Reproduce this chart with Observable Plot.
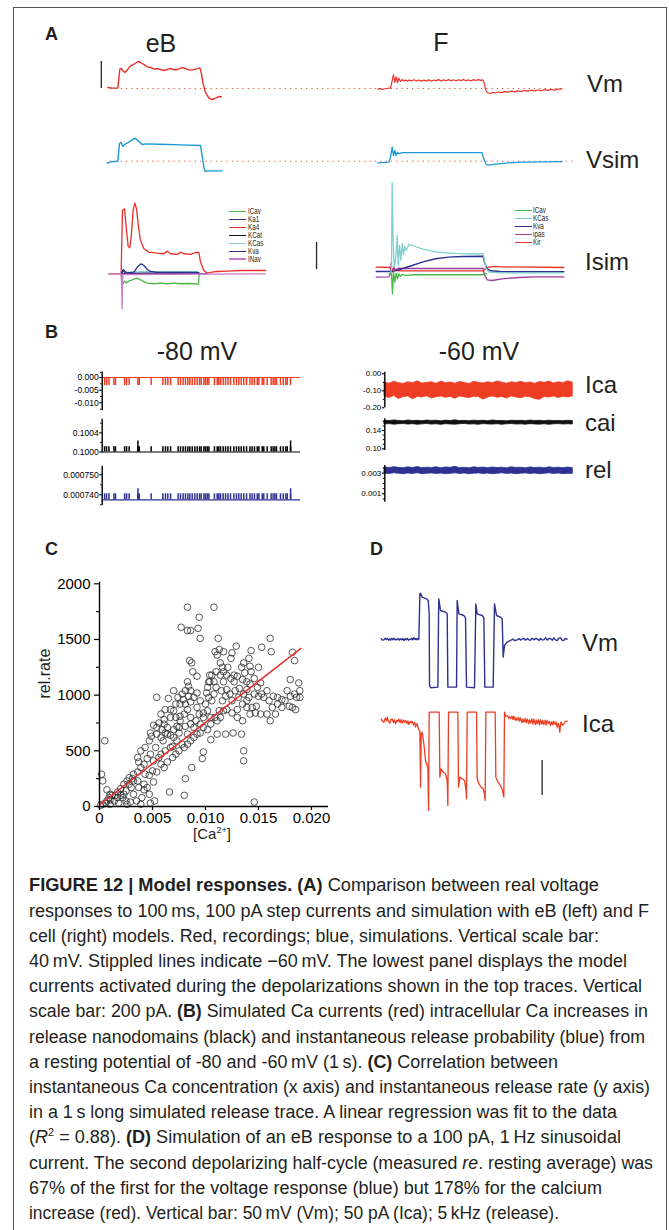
<!DOCTYPE html>
<html><head><meta charset="utf-8">
<script src="https://cdn.jsdelivr.net/npm/d3@7"></script>
<script src="https://cdn.jsdelivr.net/npm/@observablehq/plot@0.6"></script>
<style>
body{margin:0;background:#fff;}
#fig{position:relative;width:669px;height:1230px;overflow:hidden;background:#fff;font-family:"Liberation Sans",Arial,Helvetica,sans-serif;color:#231f20;}
.lab{position:absolute;white-space:nowrap;line-height:1;}
#frame{position:absolute;left:13px;top:7px;width:654px;height:1250px;border:1.4px solid #555;box-sizing:border-box;}
sup{font-size:0.6em;line-height:0;}
</style></head>
<body><div id="fig"><div id="frame"></div></div>
<script>
// ---------------- DATA ----------------
// Panel A: voltage traces [time ms, mV]
const vmEB = [[-12.1,-58.5],[-6.9,-59.5],[0,-59.5],[2.4,-31.4],[4.4,-30.4],[6.0,-33.8],[8.5,-36.3],[11.3,-32.8],[15.3,-26.4],[20.6,-23.0],[24.6,-20.0],[27.4,-21.5],[32.3,-24.9],[35.5,-27.9],[39.5,-28.9],[44.4,-31.4],[47.6,-30.4],[52.4,-32.3],[56.5,-33.3],[60.5,-31.4],[63.7,-30.4],[67.7,-32.3],[71.8,-31.9],[75.8,-29.9],[79.0,-28.9],[83.1,-31.4],[87.9,-32.8],[93.9,-31.4],[99.2,-29.4],[101.2,-38.8],[103.2,-53.6],[106.0,-65.9],[110.1,-74.3],[114.1,-76.3],[118.1,-74.3],[122.2,-71.9],[125.0,-72.3]];
const vmF = [[314.4,-61.0],[317,-60.2],[320,-61.5],[323,-60.4],[326,-60.0],[328,-59.3],[329.7,-59.5],[331.7,-48.6],[333.3,-39.8],[335.0,-51.1],[336.5,-42.7],[338.2,-51.1],[339.8,-44.7],[341.8,-49.6],[343.8,-46.7],[346,-48.9],[348,-47.3],[350,-49.0],[352,-47.5],[355,-48.8],[358,-47.0],[361,-48.6],[364,-47.4],[367,-49.1],[370,-47.6],[373,-48.7],[376,-47.2],[379,-49.0],[382,-47.5],[385,-48.4],[388,-46.9],[391,-48.8],[394,-47.3],[397,-48.5],[400,-46.8],[403,-48.6],[406,-47.1],[409,-48.9],[412,-47.0],[415,-48.3],[418,-46.6],[421,-48.5],[424,-47.2],[427,-48.8],[430,-46.9],[433,-48.1],[436,-46.8],[439,-48.0],[441,-47.2],[443.0,-51.1],[444.6,-61.0],[446.6,-65.9],[450.6,-67.4],[454,-65.5],[457,-66.6],[460,-65.2],[464,-66.2],[468,-64.6],[472,-65.5],[476,-63.9],[480,-64.9],[484,-63.5],[488,-64.4],[492,-62.8],[496,-63.9],[500,-62.6],[504,-63.5],[508,-62.2],[512,-63.1],[516,-61.8],[520,-62.7],[524,-61.5],[528,-62.3],[532,-61.0],[537,-60.5]];
const vsimEB = [[-12.9,-63.0],[-8.9,-61.0],[0,-60],[2.0,-34.3],[4.0,-31.9],[6.0,-38.3],[9.3,-34.3],[13.3,-31.9],[17.3,-28.4],[20.6,-25.9],[23.4,-28.4],[26.6,-31.9],[29.4,-35.3],[33.5,-34.3],[51.6,-34.8],[75.8,-35.8],[100.0,-36.8],[101.6,-49.1],[104.0,-68.9],[105.6,-74.8],[112.1,-74.3],[126.2,-74.3]];
const vsimF = [[314.4,-62.5],[319.6,-62.0],[327.7,-61.5],[329.7,-54.1],[331.7,-39.3],[333.3,-51.6],[335.0,-44.2],[336.5,-51.6],[338.2,-46.7],[339.8,-49.1],[343.8,-47.2],[351.9,-47.2],[440.5,-47.2],[442.5,-56.5],[445.4,-64.9],[448.6,-65.9],[456.6,-64.4],[472.8,-62.5],[488.9,-61.5],[513.1,-61.0],[537.2,-60.5]];
const restMv = -60;            // stippled line level
const stippleVm = [-9, 540];   // time extent of stippled line (Vm row)
const stippleVsim = [-9, 551];
const vmBar = [-60, -20];      // 40 mV scale bar
// Panel A: model currents [time ms, pA]
const ka4EB = [[-10.9,0],[4.0,0],[5.6,464],[8.1,476],[10.5,318],[12.5,200],[14.5,191],[16.1,269],[18.5,464],[20.6,518],[22.6,476],[25.0,342],[27.4,244],[31.5,183],[37.5,159],[47.6,151],[55.6,147],[59.7,166],[63.7,147],[71.8,142],[75.8,159],[79.8,147],[87.9,142],[94.0,156],[98.0,156],[100.0,86],[104.0,24],[108.1,5],[112.1,10],[120.2,17],[132.3,20],[148.4,24],[164.5,24],[178.6,24]];
const icavEB = [[4.0,0],[5.2,-81],[8.1,-54],[10.5,-68],[12.9,-54],[16.1,-49],[19.4,-39],[23.4,-32],[27.4,-44],[35.5,-68],[43.5,-73],[51.6,-68],[59.7,-73],[67.7,-68],[75.8,-73],[83.9,-71],[91.9,-73],[97.6,-76],[98.4,0]];
const kvaEB = [[4.0,0],[6.5,32],[8.1,20],[11.3,7],[19.4,12],[24.2,54],[28.2,73],[31.5,61],[35.5,32],[39.5,17],[47.6,10],[96.0,10],[99.2,2],[108,0]];
const kcasEB = [[4,0],[11.3,10],[27.4,15],[59.7,15],[96,15],[99.2,2]];
const ka1EB = [[4,0],[6.5,20],[9.3,5],[40,4],[98,4],[100,0]];
const kcatEB = [[4,0],[30,4],[98,4],[100,0]];
const inavEB = [[-10.9,0],[4.0,0],[4.8,-122],[5.2,-257],[5.6,-122],[6.0,-5],[178.6,0]];
const kcasF = [[329.7,10],[330.9,24],[331.7,669],[332.9,244],[334.1,49],[335.3,86],[336.5,147],[337.8,281],[339.0,61],[340.6,208],[342.2,98],[343.8,220],[345.4,142],[347.0,200],[348.6,171],[351.9,215],[359.9,200],[368.0,183],[376.0,171],[384.1,161],[396.2,154],[408.3,149],[424.4,147],[441.7,147],[443.3,98],[445.4,37],[448.6,12],[464.7,7],[539.3,7]];
const kvaF = [[312.4,17],[329.7,17],[333.7,20],[343.8,37],[355.9,61],[368.0,86],[384.1,110],[400.2,122],[416.3,127],[441.7,129],[443.3,86],[446.6,37],[450.6,22],[464.7,15],[539.3,15]];
const ipasF = [[312.4,-24],[327.7,-22],[329.7,0],[330.5,78],[331.7,12],[333.7,49],[335.7,29],[339.8,42],[343.8,39],[384.1,39],[441.7,39],[443.0,0],[446.6,-44],[452.6,-49],[464.7,-37],[484.9,-27],[505.0,-22],[539.3,-22]];
const kirF = [[312.4,49],[329.7,46],[331.7,24],[333.7,34],[335.7,24],[343.8,22],[384.1,22],[441.7,22],[444.6,37],[448.6,49],[456.6,54],[464.7,51],[539.3,46]];
const icavF = [[327.7,0],[330.9,0],[332.1,-147],[333.3,12],[334.9,-61],[336.5,5],[338.2,-37],[339.8,0],[341.4,-20],[343.8,-5],[347.8,-12],[359.9,-7],[441.7,-7],[443.3,5],[446,0]];
const isimBarT = 240.3, isimBar = [30, 230]; // 200 pA
const legendEB = ["ICav","Ka1","Ka4","KCat","KCas","Kva","INav"];
const legendF = ["ICav","KCas","Kva","ipas","Kir"];
// Panel B: -80 mV (time ms in 1 s)
const spikeT80 = [12,22,34,59,67,113,123,136,180,187,247,306,319,331,345,383,395,408,420,432,442,454,467,479,491,499,513,521,530,538,566,580,588,597,610,622,634,647,664,677,689,701,714,728,745,756,768,782,790,807,815,832,852,862,871,879,899,913,926,933,950];
const bigSpikeT80 = [180, 950];
const icaBase80 = 0, icaPeak80 = -0.0032;
const caiBase80 = 0.1000, caiPeak80 = 0.10011, caiPeakBig80 = 0.10023;
const relBase80 = 0.0007375, relPeak80 = 0.0007405, relPeakBig80 = 0.000743;
// Panel B: -60 mV noise envelopes
const bandT = [0,25,50,75,100,125,150,175,200,225,250,275,300,325,350,375,400,425,450,475,500,525,550,575,600,625,650,675,700,725,750,775,800,825,850,875,900,925,950,975,1000];
const icaHi60 = [-0.052,-0.058,-0.047,-0.055,-0.060,-0.049,-0.056,-0.044,-0.057,-0.053,-0.050,-0.059,-0.046,-0.055,-0.051,-0.058,-0.048,-0.054,-0.060,-0.047,-0.053,-0.057,-0.049,-0.055,-0.045,-0.052,-0.058,-0.050,-0.054,-0.047,-0.056,-0.051,-0.059,-0.048,-0.053,-0.046,-0.057,-0.050,-0.055,-0.044,-0.052];
const icaLo60 = [-0.135,-0.142,-0.131,-0.148,-0.137,-0.133,-0.150,-0.136,-0.140,-0.132,-0.145,-0.138,-0.134,-0.141,-0.136,-0.147,-0.133,-0.139,-0.143,-0.135,-0.137,-0.152,-0.140,-0.134,-0.141,-0.136,-0.146,-0.133,-0.139,-0.144,-0.135,-0.138,-0.149,-0.153,-0.137,-0.140,-0.134,-0.142,-0.136,-0.139,-0.133];
const caiHi60 = [0.1615,0.1605,0.1620,0.1610,0.1600,0.1618,0.1608,0.1612,0.1603,0.1617,0.1609,0.1614,0.1601,0.1616,0.1607,0.1622,0.1606,0.1611,0.1602,0.1615,0.1608,0.1613,0.1604,0.1619,0.1606,0.1610,0.1601,0.1614,0.1608,0.1612,0.1603,0.1617,0.1607,0.1611,0.1602,0.1615,0.1606,0.1609,0.1603,0.1612,0.1605];
const caiLo60 = [0.1532,0.1540,0.1527,0.1537,0.1542,0.1530,0.1538,0.1525,0.1535,0.1541,0.1529,0.1536,0.1524,0.1539,0.1532,0.1528,0.1537,0.1543,0.1531,0.1535,0.1526,0.1540,0.1533,0.1529,0.1538,0.1525,0.1536,0.1541,0.1530,0.1534,0.1527,0.1539,0.1532,0.1528,0.1537,0.1524,0.1535,0.1540,0.1531,0.1536,0.1533];
const relHi60 = [0.00355,0.00350,0.00358,0.00352,0.00348,0.00357,0.00351,0.00360,0.00349,0.00354,0.00350,0.00358,0.00347,0.00356,0.00352,0.00362,0.00349,0.00353,0.00347,0.00357,0.00351,0.00355,0.00348,0.00356,0.00350,0.00354,0.00347,0.00358,0.00351,0.00353,0.00348,0.00356,0.00350,0.00354,0.00347,0.00357,0.00351,0.00353,0.00349,0.00355,0.00350];
const relLo60 = [0.00296,0.00292,0.00299,0.00294,0.00290,0.00297,0.00293,0.00300,0.00291,0.00295,0.00298,0.00292,0.00296,0.00290,0.00294,0.00299,0.00293,0.00297,0.00291,0.00295,0.00298,0.00292,0.00296,0.00290,0.00294,0.00299,0.00293,0.00297,0.00291,0.00295,0.00298,0.00292,0.00296,0.00290,0.00294,0.00299,0.00293,0.00297,0.00291,0.00295,0.00293];
// Panel C: scatter
const caConc = [0.0083,0.0108,0.0094,0.0077,0.0083,0.0086,0.0093,0.0095,0.0112,0.0161,0.0113,0.0109,0.0117,0.0125,0.0129,0.0143,0.0153,0.0162,0.0182,0.0184,0.0085,0.0087,0.0111,0.0114,0.0124,0.0136,0.0141,0.0143,0.0121,0.0116,0.0117,0.0114,0.0110,0.0106,0.0104,0.0103,0.0088,0.0083,0.0092,0.0070,0.0078,0.0074,0.0065,0.0067,0.0054,0.0005,0.0070,0.0084,0.0086,0.0089,0.0076,0.0081,0.0086,0.0083,0.0080,0.0076,0.0072,0.0067,0.0061,0.0056,0.0051,0.0048,0.0049,0.0054,0.0058,0.0060,0.0064,0.0064,0.0070,0.0075,0.0081,0.0086,0.0091,0.0094,0.0098,0.0100,0.0103,0.0106,0.0108,0.0110,0.0115,0.0117,0.0120,0.0124,0.0127,0.0130,0.0132,0.0135,0.0139,0.0139,0.0142,0.0146,0.0149,0.0152,0.0153,0.0158,0.0164,0.0168,0.0172,0.0177,0.0180,0.0184,0.0186,0.0189,0.0188,0.0189,0.0180,0.0175,0.0179,0.0182,0.0185,0.0166,0.0161,0.0158,0.0152,0.0148,0.0144,0.0139,0.0135,0.0130,0.0125,0.0120,0.0117,0.0114,0.0111,0.0109,0.0105,0.0102,0.0098,0.0095,0.0092,0.0089,0.0086,0.0083,0.0080,0.0075,0.0072,0.0069,0.0064,0.0061,0.0058,0.0054,0.0051,0.0050,0.0047,0.0043,0.0039,0.0037,0.0036,0.0032,0.0030,0.0028,0.0025,0.0023,0.0020,0.0017,0.0014,0.0010,0.0007,0.0006,0.0003,0.0002,0.0003,0.0007,0.0012,0.0022,0.0029,0.0035,0.0042,0.0048,0.0052,0.0066,0.0080,0.0081,0.0087,0.0097,0.0098,0.0105,0.0111,0.0119,0.0126,0.0134,0.0136,0.0136,0.0146,0.0135,0.0130,0.0073,0.0078,0.0069,0.0058,0.0062,0.0067,0.0053,0.0048,0.0045,0.0042,0.0051,0.0056,0.0070,0.0075,0.0083,0.0089,0.0095,0.0098,0.0092,0.0095,0.0102,0.0105,0.0113,0.0116,0.0119,0.0123,0.0125,0.0131,0.0136,0.0141,0.0146,0.0150,0.0155,0.0160,0.0163,0.0168,0.0172,0.0139,0.0142,0.0147,0.0128,0.0127,0.0134,0.0137,0.0150,0.0142,0.0120,0.0102,0.0104,0.0108,0.0101,0.0092,0.0079,0.0072,0.0062,0.0058,0.0054,0.0059,0.0062,0.0067,0.0076,0.0073,0.0047,0.0043,0.0039,0.0036,0.0032,0.0028,0.0026,0.0023,0.0020,0.0017,0.0015,0.0010,0.0009,0.0025,0.0032,0.0037,0.0042,0.0045,0.0047,0.0040,0.0036,0.0031,0.0061,0.0086,0.0084,0.0081,0.0001,0.0010,0.0018,0.0026,0.0039];
const relRate = [1790,1790,1700,1610,1580,1580,1600,1510,1510,1510,1410,1390,1390,1380,1440,1400,1430,1390,1385,1310,1310,1290,1360,1290,1330,1290,1330,1210,1250,1250,1210,1180,1210,1180,1180,1120,1210,1120,1170,1040,1010,980,970,870,980,590,860,1080,1040,980,920,920,940,870,830,810,800,800,780,750,730,660,630,650,620,590,710,650,690,710,720,740,770,830,840,920,980,950,1010,1070,1040,1120,1050,1150,1120,1170,1060,1140,1120,1050,1100,1150,1070,1110,1010,1040,990,980,960,1040,990,1010,980,980,1110,1040,1140,950,900,890,870,830,770,830,830,900,890,950,920,870,840,870,860,800,770,800,740,690,710,660,650,620,590,560,530,500,470,440,400,350,380,310,220,320,280,290,350,400,310,230,170,200,140,110,100,80,50,60,50,30,20,290,230,150,100,80,40,50,150,30,50,130,100,250,350,430,490,600,650,650,660,650,500,410,40,770,800,590,560,540,470,500,530,530,470,430,380,410,440,620,660,650,710,740,800,890,950,860,800,860,950,990,1010,950,980,1010,980,1010,990,980,950,890,920,890,890,830,840,1040,1180,1250,1200,1250,1260,1180,1070,1120,1120,1020,1020,960,920,870,830,710,690,660,640,770,720,590,530,500,440,290,260,230,200,160,130,100,110,80,50,110,170,200,170,110,80,230,250,740,800,990,1040,10,20,30,20,20];
const fitX = [0, 0.0190], fitY = [15, 1420];
const xTicksC = [0, 0.005, 0.010, 0.015, 0.020];
const yTicksC = [0, 500, 1000, 1500, 2000];
// Panel D: [time ms, value]
const vmD = [[0,-59.0],[43,-60.9],[86,-60.5],[130,-58.1],[160,-60.0],[194,-58.6],[240,-60.9],[270,-59.0],[301,-61.0],[340,-58.6],[380,-60.5],[409,-58.1],[450,-60.5],[480,-59.5],[516,-60.5],[560,-58.6],[590,-61.0],[624,-59.0],[665,-60.5],[700,-58.6],[731,-61.4],[770,-59.0],[805,-60.5],[839,-58.6],[880,-61.0],[915,-59.5],[946,-60.0],[990,-58.1],[1020,-60.5],[1054,-57.6],[1100,-60.0],[1130,-58.6],[1161,-60.5],[1190,-58.6],[1215,-59.5],[1247,5.2],[1269,6.2],[1322,0.5],[1462,-1.9],[1516,-4.3],[1548,-23.3],[1559,-125.7],[1591,-129.0],[1828,-128.1],[1849,-28.1],[1860,-1.9],[1913,-18.6],[2075,-21.0],[2129,-23.3],[2150,-128.1],[2430,-128.1],[2451,-4.3],[2505,-23.3],[2666,-25.7],[2720,-29.1],[2752,-128.1],[3010,-129.0],[3053,-9.1],[3096,-23.3],[3257,-25.7],[3311,-29.1],[3343,-128.1],[3612,-128.1],[3655,-9.1],[3720,-25.7],[3849,-28.1],[3902,-30.5],[3935,-85.2],[3978,-68.6],[4064,-63.8],[4171,-61.4],[4250,-59.5],[4300,-61.4],[4386,-60.5],[4440,-58.6],[4500,-60.9],[4550,-59.0],[4601,-58.6],[4660,-60.9],[4720,-58.6],[4770,-60.5],[4816,-61.0],[4870,-58.1],[4930,-60.5],[4980,-58.6],[5031,-59.0],[5090,-61.4],[5140,-58.6],[5190,-60.5],[5246,-60.5],[5300,-57.6],[5360,-60.9],[5410,-58.6],[5461,-58.6],[5520,-61.0],[5570,-57.6],[5620,-60.5],[5676,-61.4],[5730,-58.1],[5784,-57.6],[5840,-61.4],[5891,-61.0],[5940,-58.6],[5999,-59.5]];
const icaD = [[0,2.4],[43,-1.0],[86,-2.4],[129,3.3],[172,-0.5],[194,4.8],[237,-1.9],[280,-3.8],[310,1.4],[355,2.4],[398,-2.9],[430,1.0],[462,-4.8],[505,0.5],[540,-1.4],[570,1.9],[610,-2.9],[645,1.4],[677,-3.8],[720,0.5],[755,-2.4],[785,0],[830,-4.3],[860,-0.5],[892,-5.7],[935,-1.4],[970,-3.3],[1000,-1.0],[1040,-6.2],[1075,-2.9],[1107,-9.5],[1135,-5.2],[1161,-4.8],[1190,-10.5],[1215,-13.3],[1247,-14.3],[1269,-95.2],[1290,-19.0],[1322,-16.7],[1376,-33.3],[1430,-57.1],[1462,-61.9],[1505,-67.6],[1527,-128.5],[1548,11.9],[1871,11.9],[1892,-80.9],[1935,-69.0],[2000,-73.8],[2075,-76.2],[2129,-85.7],[2150,-121.4],[2172,11.9],[2473,11.9],[2494,-95.2],[2537,-80.9],[2612,-83.3],[2688,-85.7],[2731,-97.6],[2752,-111.9],[2774,11.9],[3075,11.9],[3096,-83.3],[3150,-90.4],[3225,-95.2],[3290,-97.6],[3333,-104.7],[3354,-114.2],[3376,11.9],[3677,11.9],[3698,-80.9],[3763,-88.1],[3849,-92.8],[3913,-100.0],[3956,-109.5],[3978,11.9],[4020,6.2],[4064,7.1],[4110,3.3],[4140,5.2],[4171,2.4],[4220,6.2],[4250,1.4],[4279,5.7],[4320,0.5],[4350,3.8],[4386,0],[4430,4.3],[4460,-1.0],[4494,3.8],[4540,-2.9],[4570,1.9],[4601,-2.4],[4640,2.9],[4675,-3.3],[4709,2.4],[4750,-4.3],[4780,1.0],[4816,-3.8],[4860,2.4],[4890,-4.8],[4924,1.9],[4970,-5.7],[5000,0.5],[5031,-4.8],[5075,1.4],[5105,-6.2],[5139,1.0],[5180,-5.2],[5210,0],[5246,-5.7],[5290,0.5],[5320,-6.7],[5354,0],[5400,-4.3],[5430,-1.4],[5461,-7.1],[5500,-1.9],[5535,-6.2],[5569,-1.0],[5610,-5.7],[5645,-2.4],[5676,-9.5],[5720,-4.3],[5762,-16.7],[5790,-3.3],[5805,-2.4],[5850,-6.7],[5891,-4.8],[5940,-1.4],[5999,-1.0]];
const dBarT = 5192, dBar = [-57, -107]; // 50 pA

// ---------------- STYLE ----------------
const C = {red:"#e8302a", red2:"#ee3d24", sim:"#1b9ad6", indigo:"#2e3192", green:"#4cb848", cyan:"#7fd0cf", ka1:"#4a2a8e", violet:"#c77cc9", ipas:"#9b3c9f", dot:"#e8554d", ink:"#231f20"};
const FONT = '"Liberation Sans", Arial, Helvetica, sans-serif';
const fig = document.getElementById("fig");

function panel({left, top, width, height, xd, xp, yd, yp, marks, fontSize = 10}) {
  const svg = Plot.plot({
    width, height,
    marginLeft: Math.min(...xp) - left, marginRight: left + width - Math.max(...xp),
    marginTop: Math.min(...yp) - top, marginBottom: top + height - Math.max(...yp),
    x: {domain: xd, range: [xp[0] - left, xp[1] - left], axis: null},
    y: {domain: yd, range: [yp[0] - top, yp[1] - top], axis: null},
    style: {fontSize: fontSize + "px", fontFamily: FONT, color: "black", background: "transparent", overflow: "visible"},
    marks
  });
  svg.style.position = "absolute"; svg.style.left = left + "px"; svg.style.top = top + "px"; svg.style.maxWidth = "none";
  fig.appendChild(svg);
  return svg;
}
function label(html, x, base, size, opt = {}) {
  const d = document.createElement("div");
  d.className = "lab"; d.innerHTML = html;
  d.style.fontSize = size + "px"; d.style.left = x + "px"; d.style.top = (base - 0.8465 * size) + "px";
  if (opt.bold) d.style.fontWeight = "bold";
  if (opt.anchor === "middle") d.style.transform = "translateX(-50%)";
  if (opt.sx) { d.style.transform = `scaleX(${opt.sx})`; d.style.transformOrigin = "0 0"; }
  fig.appendChild(d);
  return d;
}
const line = (data, stroke, w = 1.3) => Plot.line(data, {stroke, strokeWidth: w});

// ---------------- PANEL A ----------------
const rowX = {left: 0, width: 669, xd: [-20, 540], xp: [100.8, 563.9]};
panel({...rowX, top: 40, height: 80, yd: [-60, -20], yp: [88, 61], marks: [
  Plot.ruleY([restMv], {x1: stippleVm[0], x2: stippleVm[1], stroke: C.dot, strokeWidth: 1, strokeDasharray: "1.3,4"}),
  line(vmEB, C.red, 1.4), line(vmF, C.red, 1.2),
  Plot.ruleX([-20], {y1: vmBar[0], y2: vmBar[1], stroke: "#222", strokeWidth: 1.3})
]});
panel({...rowX, top: 120, height: 80, yd: [-60, -20], yp: [160.7, 133.7], marks: [
  Plot.ruleY([restMv], {x1: stippleVsim[0], x2: stippleVsim[1], stroke: C.dot, strokeWidth: 1, strokeDasharray: "1.3,4"}),
  line(vsimEB, C.sim, 1.4), line(vsimF, C.sim, 1.3)
]});
panel({...rowX, top: 175, height: 145, yd: [0, 200], yp: [273.3, 246], marks: [
  line(ka4EB, C.red), line(icavEB, C.green), line(kcasEB, C.cyan), line(kcatEB, "#111", 1),
  line(ka1EB, C.ka1, 1.1), line(kvaEB, C.indigo), line(inavEB, C.violet),
  line(ipasF, C.ipas), line(kirF, C.red), line(kvaF, C.indigo, 1.4), line(icavF, C.green), line(kcasF, C.cyan),
  Plot.ruleX([isimBarT], {y1: isimBar[0], y2: isimBar[1], stroke: "#222", strokeWidth: 1.3})
]});
const legColEB = [C.green, C.ka1, C.red, "#111", C.cyan, C.indigo, C.violet];
const legColF = [C.green, C.cyan, C.indigo, C.ipas, C.red];
function legend(names, cols, x, y0, dy) {
  names.forEach((n, i) => {
    const cy = y0 + i * dy;
    const s = document.createElement("div");
    s.style.cssText = `position:absolute;left:${x}px;top:${cy - 0.8}px;width:17px;height:1.6px;background:${cols[i]}`;
    fig.appendChild(s);
    label(n, x + 18.3, cy + 3.2, 9, {sx: 0.7});
  });
}
legend(legendEB, legColEB, 229.3, 211.7, 7.93);
legend(legendF, legColF, 515, 210.7, 8.0);

label("A", 45, 40, 18, {bold: true});
label("eB", 161, 52, 25, {anchor: "middle"});
label("F", 441, 51, 25, {anchor: "middle"});
label("Vm", 587, 92, 24);
label("Vsim", 586, 168, 24);
label("Isim", 585, 270, 24);

// ---------------- PANEL B ----------------
const bL = {left: 40, width: 270, xd: [0, 1000], xp: [101.7, 300]};
const axB = (ticks, fmt, fs = 8.5) => [
  Plot.axisY({ticks, anchor: "left", tickSize: 2.5, tickPadding: 1, tickFormat: fmt, fontSize: fs, strokeWidth: 1.1}),
];
const minorB = (ticks) => Plot.axisY({ticks, anchor: "left", tickSize: 1.6, tickFormat: () => "", strokeWidth: 1});
panel({...bL, top: 365, height: 50, yd: [0, -0.010], yp: [377, 402.3], marks: [
  Plot.ruleY([icaBase80], {x1: 0, x2: 1000, stroke: C.red2, strokeWidth: 1.2}),
  Plot.ruleX(spikeT80, {y1: icaBase80, y2: icaPeak80, stroke: C.red2, strokeWidth: 1.5}),
  Plot.ruleX([0], {y1: -0.0131, y2: 0.0022, stroke: "black", strokeWidth: 1.4}),
  ...axB([0, -0.005, -0.010], d => d.toFixed(3)), minorB([0.0020, -0.0025, -0.0075, -0.0125])
]});
panel({...bL, top: 413, height: 45, yd: [0.1000, 0.1004], yp: [451.5, 432.3], marks: [
  Plot.ruleY([caiBase80], {x1: 0, x2: 1000, stroke: "black", strokeWidth: 1.2}),
  Plot.ruleX(spikeT80, {y1: caiBase80, y2: caiPeak80, stroke: "black", strokeWidth: 1.5}),
  Plot.ruleX(bigSpikeT80, {y1: caiBase80, y2: caiPeakBig80, stroke: "black", strokeWidth: 1.5}),
  Plot.ruleX([0], {y1: 0.09998, y2: 0.10068, stroke: "black", strokeWidth: 1.4}),
  ...axB([0.1000, 0.1004], d => d.toFixed(4)), minorB([0.1002, 0.1006])
]});
panel({...bL, top: 460, height: 50, yd: [0.000740, 0.000750], yp: [494.3, 474.3], marks: [
  Plot.ruleY([relBase80], {x1: 0, x2: 1000, stroke: C.indigo, strokeWidth: 1.3}),
  Plot.ruleX(spikeT80, {y1: relBase80, y2: relPeak80, stroke: C.indigo, strokeWidth: 1.5}),
  Plot.ruleX(bigSpikeT80, {y1: relBase80, y2: relPeakBig80, stroke: C.indigo, strokeWidth: 1.5}),
  Plot.ruleX([0], {y1: 0.0007347, y2: 0.0007543, stroke: "black", strokeWidth: 1.4}),
  ...axB([0.000740, 0.000750], d => d.toFixed(6)), minorB([0.000735, 0.000745])
]});
const bR = {left: 330, width: 250, xd: [0, 1000], xp: [384.3, 572.3]};
const band = (hi, lo) => bandT.map((t, i) => ({t, hi: hi[i], lo: lo[i]}));
panel({...bR, top: 365, height: 48, yd: [0, -0.2], yp: [373.3, 407.3], marks: [
  Plot.areaY(band(icaHi60, icaLo60), {x: "t", y1: "lo", y2: "hi", fill: C.red2, stroke: C.red2, strokeWidth: 0.8}),
  Plot.ruleX([0], {y1: -0.2, y2: 0.0094, stroke: "black", strokeWidth: 1.4}),
  ...axB([0, -0.1, -0.2], d => d.toFixed(2), 8), minorB([-0.05, -0.15])
]});
panel({...bR, top: 412, height: 42, yd: [0.10, 0.14], yp: [448.3, 430], marks: [
  Plot.areaY(band(caiHi60, caiLo60), {x: "t", y1: "lo", y2: "hi", fill: "#111", stroke: "#111", strokeWidth: 0.8}),
  Plot.ruleX([0], {y1: 0.0963, y2: 0.1656, stroke: "black", strokeWidth: 1.4}),
  ...axB([0.14, 0.10], d => d.toFixed(2), 8), minorB([0.11, 0.12, 0.13, 0.15, 0.16])
]});
panel({...bR, top: 460, height: 46, yd: [0.001, 0.003], yp: [493.3, 472.7], marks: [
  Plot.areaY(band(relHi60, relLo60), {x: "t", y1: "lo", y2: "hi", fill: C.indigo, stroke: C.indigo, strokeWidth: 0.8}),
  Plot.ruleX([0], {y1: 0.00019, y2: 0.00375, stroke: "black", strokeWidth: 1.4}),
  ...axB([0.003, 0.001], d => d.toFixed(3), 8), minorB([0.0005, 0.0015, 0.002, 0.0025, 0.0035])
]});
label("B", 45, 338, 18, {bold: true});
label("-80 mV", 197, 360, 25, {anchor: "middle"});
label("-60 mV", 479, 360, 25, {anchor: "middle"});
label("Ica", 585, 393, 24);
label("cai", 585, 431, 24);
label("rel", 585, 478, 24);

// ---------------- PANEL C ----------------
panel({left: 0, top: 570, width: 345, height: 280, xd: [0, 0.020], xp: [99, 311], yd: [0, 2000], yp: [806, 583.3], fontSize: 15, marks: [
  Plot.dot(d3.zip(caConc, relRate), {x: d => d[0], y: d => d[1], r: 3.3, stroke: "#222", strokeWidth: 0.75, fill: "none"}),
  Plot.line(d3.zip(fitX, fitY), {stroke: C.red, strokeWidth: 1.5}),
  Plot.ruleX([0], {y1: 0, y2: 2015, stroke: "black", strokeWidth: 1.4}),
  Plot.ruleY([0], {x1: 0, x2: 0.0216, stroke: "black", strokeWidth: 1.4}),
  Plot.axisY({ticks: yTicksC, anchor: "left", tickSize: 5, tickPadding: 4, tickFormat: d => String(d), fontSize: 15, strokeWidth: 1.2}),
  Plot.axisY({ticks: [250, 750, 1250, 1750], anchor: "left", tickSize: 3, tickFormat: () => "", strokeWidth: 1.1}),
  Plot.axisX({ticks: xTicksC, anchor: "bottom", tickSize: 4, tickPadding: 2, tickFormat: d => d === 0 ? "0" : d.toFixed(3), fontSize: 15, strokeWidth: 1.2})
]});
label("C", 45, 555, 18, {bold: true});
const rr = label("rel.rate", 47, 678, 16);
rr.style.transform = "translateX(-50%) rotate(-90deg)"; rr.style.transformOrigin = "50% 60%";
label("[Ca<sup>2+</sup>]", 212, 839, 15, {anchor: "middle"});

// ---------------- PANEL D ----------------
const dX = {left: 0, width: 669, xd: [0, 6000], xp: [380.7, 566.7]};
panel({...dX, top: 580, height: 120, yd: [-60, 0], yp: [639, 597], marks: [line(vmD, C.indigo, 1.4)]});
panel({...dX, top: 700, height: 120, yd: [0, -50], yp: [720, 755], marks: [
  line(icaD, C.red2, 1.3),
  Plot.ruleX([dBarT], {y1: dBar[0], y2: dBar[1], stroke: "#222", strokeWidth: 1.3})
]});
label("D", 370, 555, 18, {bold: true});
label("Vm", 582, 651, 24);
label("Ica", 582, 732, 24);

// ---------------- CAPTION ----------------
const capLines = [
  "<b>FIGURE 12 | Model responses. (A)</b> Comparison between real voltage",
  "responses to 100\u2009ms, 100 pA step currents and simulation with eB (left) and F",
  "cell (right) models. Red, recordings; blue, simulations. Vertical scale bar:",
  "40\u2009mV. Stippled lines indicate \u221260\u2009mV. The lowest panel displays the model",
  "currents activated during the depolarizations shown in the top traces. Vertical",
  "scale bar: 200 pA. <b>(B)</b> Simulated Ca currents (red) intracellular Ca increases in",
  "release nanodomains (black) and instantaneous release probability (blue) from",
  "a resting potential of -80 and -60\u2009mV (1\u2009s). <b>(C)</b> Correlation between",
  "instantaneous Ca concentration (x axis) and instantaneous release rate (y axis)",
  "in a 1\u2009s long simulated release trace. A linear regression was fit to the data",
  "(<i>R</i><sup>2</sup> = 0.88). <b>(D)</b> Simulation of an eB response to a 100 pA, 1\u2009Hz sinusoidal",
  "current. The second depolarizing half-cycle (measured <i>re</i>. resting average) was",
  "67% of the first for the voltage response (blue) but 178% for the calcium",
  "increase (red). Vertical bar: 50\u2009mV (Vm); 50 pA (Ica); 5\u2009kHz (release)."
];
const capW = [570, 620, 570, 598, 613, 619, 616, 529, 621, 588, 592, 624, 573, 530];
capLines.forEach((h, i) => {
  const d = label("", 29, 891.7 + i * 25.2, 18);
  const s = document.createElement("span");
  s.innerHTML = h; s.style.display = "inline-block"; s.style.transformOrigin = "0 0";
  d.appendChild(s);
  const w = s.getBoundingClientRect().width;
  s.style.transform = `scaleX(${capW[i] / w})`;
});
</script>
</body></html>
